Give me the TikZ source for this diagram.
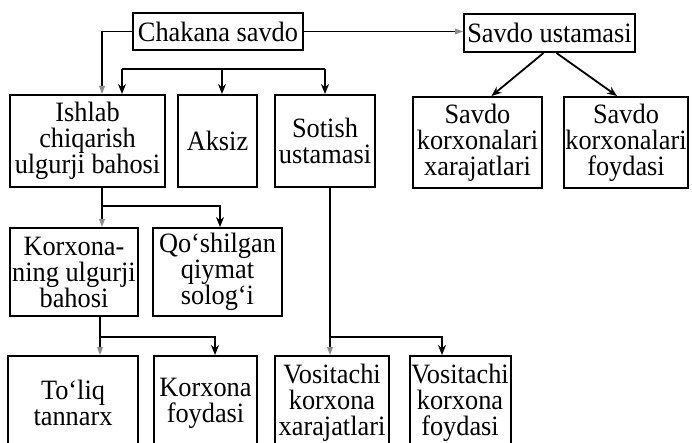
\documentclass[tikz,border=0pt]{standalone}
\usepackage{fontspec}
\setmainfont[FakeStretch=0.94]{Liberation Serif}
\usetikzlibrary{arrows.meta}
\begin{document}
\begin{tikzpicture}[x=1pt,y=-1pt,
  box/.style={draw,line width=2pt,inner sep=0pt,align=center,
    font={\fontsize{28}{26}\selectfont\lineskiplimit=-30pt}},
  arr/.style={line width=1.8pt,-{Stealth[length=10pt,width=8pt]}},
  farr/.style={line width=1.8pt,shorten >=7pt},
  ftip/.style={fill=black!45},
  ln/.style={line width=1.8pt}]
\useasboundingbox (0,0) rectangle (692,443);
\clip (0,0) rectangle (692,443);
\fill[white] (0,0) rectangle (692,443);

\node[box,minimum width=170pt,minimum height=37pt] (chakana) at (218,31.5) {Chakana savdo};
\node[box,minimum width=171pt,minimum height=38pt] (savdoust) at (549.5,33) {Savdo ustamasi};
\node[box,minimum width=155pt,minimum height=92pt] (ishlab) at (87.5,141) {Ishlab\\chiqarish\\ulgurji bahosi};
\node[box,minimum width=79pt,minimum height=92pt] (aksiz) at (217.5,141) {Aksiz};
\node[box,minimum width=100pt,minimum height=92pt] (sotish) at (325,141) {Sotish\\ustamasi};
\node[box,minimum width=129pt,minimum height=91pt] (savdokx) at (477.5,142.5) {Savdo\\korxonalari\\xarajatlari};
\node[box,minimum width=124pt,minimum height=91pt] (savdokf) at (626,142.5) {Savdo\\korxonalari\\foydasi};
\node[box,minimum width=128pt,minimum height=88pt] (korxng) at (74,272) {Korxona-\\ning ulgurji\\bahosi};
\node[box,minimum width=129pt,minimum height=88pt] (qoshil) at (217.5,272) {Qo‘shilgan\\qiymat\\solog‘i};
\node[box,minimum width=130pt,minimum height=94pt] (toliq) at (73,403) {To‘liq\\tannarx};
\node[box,minimum width=103pt,minimum height=94pt] (korxf) at (205.5,403) {Korxona\\foydasi};
\node[box,minimum width=114pt,minimum height=94pt] (vosx) at (332,403) {Vositachi\\korxona\\xarajatlari};
\node[box,minimum width=101pt,minimum height=94pt] (vosf) at (460,403) {Vositachi\\korxona\\foydasi};

% Chakana savdo connectors
\coordinate (c1) at (102,0);
\draw[farr] (chakana.west) -| (c1 |- ishlab.north);
\fill[ftip] (c1 |- ishlab.north) -- ++(-3,-8) -- ++(6,0) -- cycle;
\draw[farr] (chakana.east) -- (chakana.east -| savdoust.west);
\fill[ftip] (chakana.east -| savdoust.west) -- ++(-8,-3) -- ++(0,6) -- cycle;

% upper bar
\coordinate (b1) at (122,69);
\coordinate (b3) at (222,69);
\coordinate (b2) at (325,69);
\draw[ln] (b1) -- (b2);
\draw[arr] (b1) -- (b1 |- ishlab.north);
\draw[arr] (b3) -- (b3 |- aksiz.north);
\draw[arr] (b2) -- (sotish.north);

% Savdo ustamasi
\draw[arr] ([xshift=-6pt]savdoust.south) -- ([xshift=14pt]savdokx.north);
\draw[arr] ([xshift=7pt]savdoust.south) -- ([xshift=-9pt]savdokf.north);

% Ishlab -> next level
\coordinate (j1) at (102,206);
\draw[farr] (j1 |- ishlab.south) -- (j1 |- korxng.north);
\fill[ftip] (j1 |- korxng.north) -- ++(-3,-8) -- ++(6,0) -- cycle;
\draw[arr] (j1) -| ([xshift=2.5pt]qoshil.north);

% Korxonaning -> bottom
\coordinate (j2) at (100,337);
\draw[farr] (j2 |- korxng.south) -- (j2 |- toliq.north);
\fill[ftip] (j2 |- toliq.north) -- ++(-3,-8) -- ++(6,0) -- cycle;
\draw[arr] (j2) -| ([xshift=9.5pt]korxf.north);

% Sotish -> Vositachi
\coordinate (j3) at (330,337);
\draw[farr] (j3 |- sotish.south) -- (j3 |- vosx.north);
\fill[ftip] (j3 |- vosx.north) -- ++(-3,-8) -- ++(6,0) -- cycle;
\draw[arr] (j3) -| ([xshift=-18pt]vosf.north);
\end{tikzpicture}
\end{document}
